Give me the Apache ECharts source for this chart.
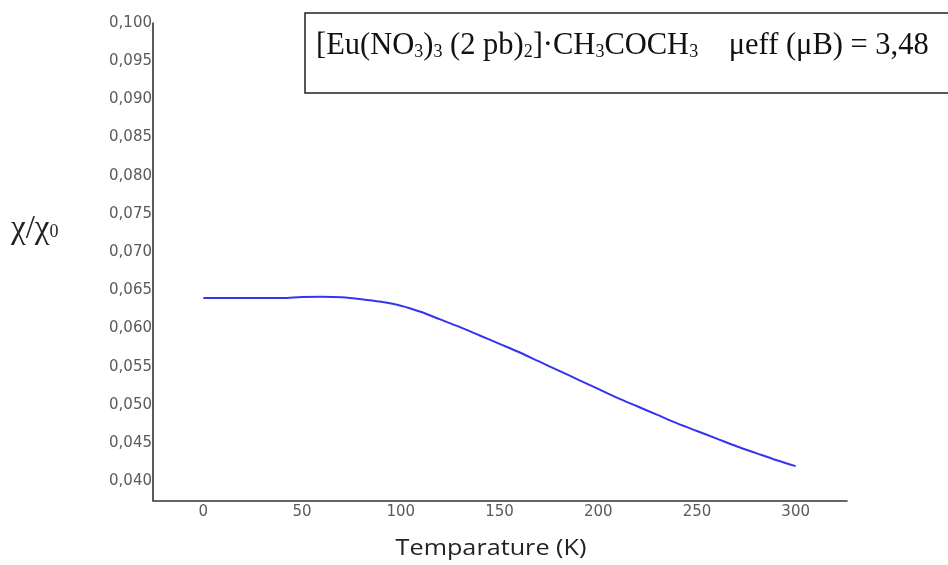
<!DOCTYPE html>
<html>
<head>
<meta charset="utf-8">
<script src="https://cdn.jsdelivr.net/npm/echarts@6/dist/echarts.min.js"></script>
<style>
html,body{margin:0;padding:0;background:#fff;}
#chart{width:948px;height:565px;}
</style>
</head>
<body>
<div id="chart"></div>
<script>
// ---- data ----
const temperature = [0,10,20,30,40,50,60,70,80,90,100,110,120,130,140,150,160,170,180,190,200,210,220,230,240,250,260,270,280,290,300];
const chiRatio = [0.0640,0.0640,0.0640,0.0640,0.0640,0.06415,0.06417,0.06410,0.06385,0.0635,0.0630,0.0622,0.0612,0.0602,0.0591,0.0580,0.0569,0.0557,0.0545,0.0533,0.0521,0.0509,0.0498,0.0487,0.0476,0.0466,0.0456,0.0446,0.0437,0.0428,0.0420];
const xTickLabels = [0,50,100,150,200,250,300];
const yTickLabels = [0.040,0.045,0.050,0.055,0.060,0.065,0.070,0.075,0.080,0.085,0.090,0.095,0.100];
const xTitle = 'Temparature (K)';
const yTitle = 'χ/χ{s|0}';
const boxText = '[Eu(NO{s|3}){s|3} (2 pb){s|2}]·CH{s|3}COCH{s|3}    μeff (μB) = 3,48';

const chart = echarts.init(document.getElementById('chart'), null, {renderer:'canvas'});
const option = {
  animation: false,
  backgroundColor: '#fff',
  grid: {left: 153, right: 101, top: 23, bottom: 64.5, containLabel: false},
  xAxis: {
    type: 'value',
    min: -25.5, max: 326,
    axisLine: {show: true, onZero: false, lineStyle: {color: '#333', width: 1.6}},
    axisTick: {show: false},
    splitLine: {show: false},
    axisLabel: {
      customValues: xTickLabels,
      margin: 4,
      fontFamily: 'DejaVu Sans', fontSize: 15, color: '#5a5a5a',
      formatter: v => String(v)
    }
  },
  yAxis: {
    type: 'value',
    min: 0.0375, max: 0.1,
    axisLine: {show: true, onZero: false, lineStyle: {color: '#333', width: 1.6}},
    axisTick: {show: false},
    splitLine: {show: false},
    axisLabel: {
      customValues: yTickLabels,
      margin: 1,
      fontFamily: 'DejaVu Sans', fontSize: 15, color: '#5a5a5a',
      formatter: v => v.toFixed(3).replace('.', ',')
    }
  },
  series: [{
    type: 'line',
    data: temperature.map((t, i) => [t, chiRatio[i]]),
    smooth: 0.3,
    showSymbol: false,
    lineStyle: {color: '#3535f0', width: 2}
  }],
  graphic: [
    {
      type: 'rect', z: 10,
      shape: {x: 305, y: 13, width: 700, height: 80},
      style: {fill: '#fff', stroke: '#222', lineWidth: 1.5}
    },
    {
      type: 'text', z: 11, x: 316, y: 46,
      style: {
        text: boxText,
        fontFamily: 'Liberation Serif', fontSize: 30.5, fill: '#111',
        verticalAlign: 'middle',
        rich: {
          s: {fontFamily: 'Liberation Serif', fontSize: 18, fill: '#111', padding: [12, 0, 0, 0]}
        }
      }
    },
    {
      type: 'text', z: 11, x: 11, y: 229,
      style: {
        text: yTitle,
        fontFamily: 'Liberation Serif', fontSize: 33, fill: '#222',
        verticalAlign: 'middle',
        rich: {
          s: {fontFamily: 'Liberation Serif', fontSize: 18, fill: '#222', padding: [7, 0, 0, 0]}
        }
      }
    },
    {
      type: 'text', z: 11, x: 491, y: 549, scaleX: 1.2,
      style: {
        text: xTitle,
        fontFamily: 'Open Sans', fontSize: 21, fill: '#222',
        align: 'center', verticalAlign: 'middle'
      }
    }
  ]
};
chart.setOption(option);
</script>
</body>
</html>
